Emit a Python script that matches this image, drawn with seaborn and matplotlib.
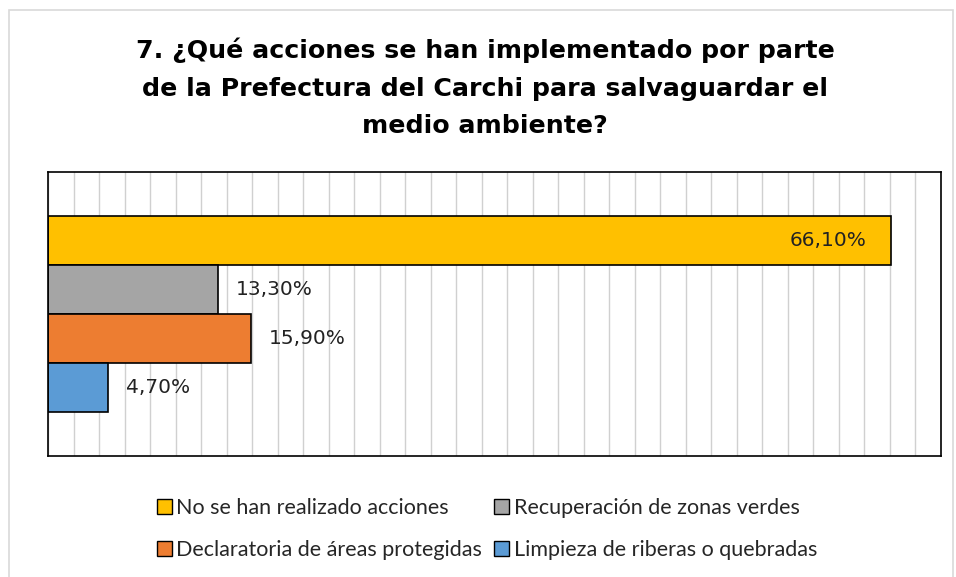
import matplotlib
matplotlib.use("Agg")
import matplotlib.pyplot as plt
import seaborn as sns
import pandas as pd
from matplotlib.patches import Rectangle, Patch
from matplotlib.ticker import MultipleLocator

title = "7. ¿Qué acciones se han implementado por parte\nde la Prefectura del Carchi para salvaguardar el\nmedio ambiente?"
series = ["No se han realizado acciones", "Recuperación de zonas verdes",
          "Declaratoria de áreas protegidas", "Limpieza de riberas o quebradas"]
values = [66.1, 13.3, 15.9, 4.7]
labels = ["66,10%", "13,30%", "15,90%", "4,70%"]
colors = ["#FFC000", "#A5A5A5", "#ED7D31", "#5B9BD5"]

df = pd.DataFrame({"cat": [""] * len(series), "serie": series, "valor": values})

sns.set_theme(style="white")
plt.rcParams['font.family'] = ['DejaVu Sans']

fig = plt.figure(figsize=(9.56, 5.77), dpi=100)
fig.patches.append(Rectangle((9 / 956, -0.1), (953 - 9) / 956, 1.1 - 10 / 577,
                             transform=fig.transFigure, fill=False,
                             edgecolor="#D9D9D9", linewidth=1.2))
ax = fig.add_axes([48 / 956, 1 - 456 / 577, (941 - 48) / 956, (456 - 172) / 577])

sns.barplot(data=df, y="cat", x="valor", hue="serie", hue_order=series,
            palette=colors, saturation=1, orient="h", width=0.687, ax=ax,
            edgecolor="black", linewidth=1.2, legend=False, errorbar=None)

ax.set_xlim(0, 70)
ax.set_ylim(0.5, -0.5)
ax.xaxis.set_major_locator(MultipleLocator(2))
ax.grid(axis="x", color="#D0D0D0", linewidth=1)
ax.set_axisbelow(True)
ax.tick_params(left=False, bottom=False, labelleft=False, labelbottom=False)
ax.set_xlabel("")
ax.set_ylabel("")
for s in ax.spines.values():
    s.set_color("black")
    s.set_linewidth(1.2)

for bar, lab, v in zip(ax.patches, labels, values):
    yc = bar.get_y() + bar.get_height() / 2
    if v > 50:
        ax.annotate(lab, (v, yc), xytext=(-18, 0), textcoords="offset points",
                    ha="right", va="center", fontsize=14.5, color="#222222")
    else:
        ax.annotate(lab, (v, yc), xytext=(13, 0), textcoords="offset points",
                    ha="left", va="center", fontsize=14.5, color="#222222")

fig.text(485 / 956, 1 - 88 / 577, title, ha="center", va="center",
         fontsize=18.2, fontweight="bold", linespacing=1.72, color="black")

order = [0, 2, 1, 3]
handles = [Patch(facecolor=colors[i], edgecolor="black", linewidth=1) for i in order]
fig.legend(handles, [series[i] for i in order], loc="center",
           bbox_to_anchor=(487 / 956, 1 - 529 / 577),
           ncol=2, frameon=False, handlelength=0.7, handleheight=0.7,
           handletextpad=0.2, columnspacing=0.55, labelspacing=1.05,
           prop={"family": "Lato", "size": 15.5})

fig.savefig("out.png", dpi=100)
